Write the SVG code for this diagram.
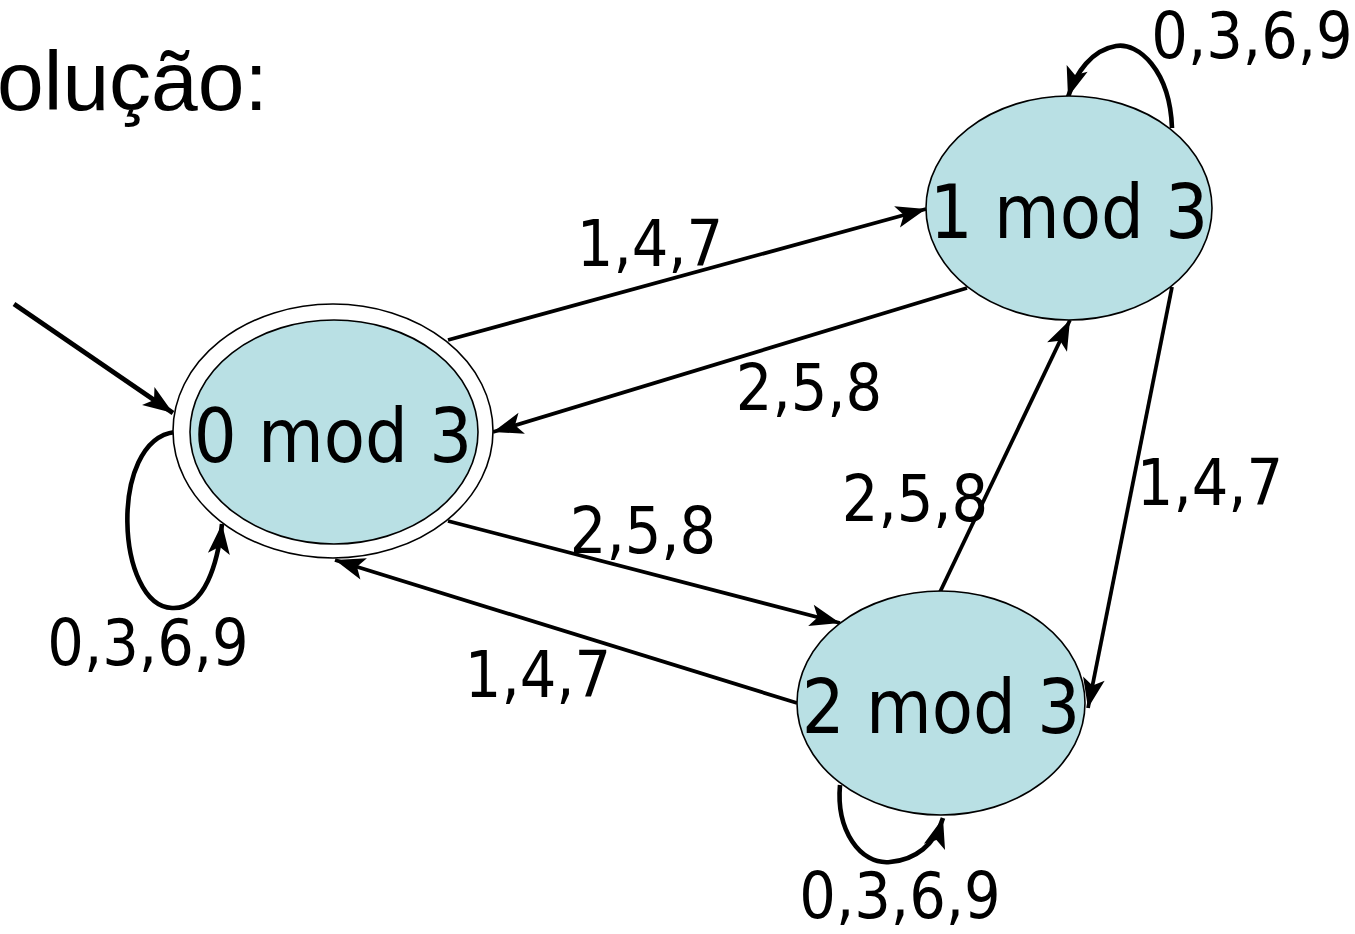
<svg xmlns="http://www.w3.org/2000/svg" width="1355" height="934" viewBox="0 0 1355 934">
<style>
.st{fill:#b9e0e4;stroke:#000;stroke-width:1.6}
.ring{fill:#fff;stroke:#000;stroke-width:1.6}
.nl{font-family:"DejaVu Sans Condensed","DejaVu Sans",sans-serif;font-size:75px;text-anchor:middle;fill:#000}
.el{font-family:"DejaVu Sans Condensed","DejaVu Sans",sans-serif;font-size:64px;text-anchor:middle;fill:#000}
.c{fill:none;stroke:#000;stroke-width:3.8;marker-end:url(#ah)}
</style>
<defs>
<marker id="ah" markerUnits="userSpaceOnUse" viewBox="0 0 32 24" markerWidth="32" markerHeight="24" refX="30" refY="12" orient="auto" overflow="visible">
<path d="M0,1 L30,12 L0,23 L7,12 Z" fill="#000"/>
</marker>
</defs>
<text x="-3" y="110" font-family="Liberation Sans, Arial, sans-serif" font-size="84px">olução:</text>
<g id="connectors">
<line class="c" x1="14" y1="304" x2="173" y2="413" style="stroke-width:4.8"/>
<line class="c" x1="448" y1="340" x2="926" y2="209"/>
<line class="c" x1="967" y1="288" x2="493" y2="432"/>
<line class="c" x1="448" y1="521" x2="840" y2="623"/>
<line class="c" x1="797" y1="703" x2="335" y2="560"/>
<line class="c" x1="940" y1="592" x2="1070" y2="320"/>
<line class="c" x1="1172" y1="287" x2="1088" y2="708"/>
<path class="c" d="M175 432 C108 440 116 606 172 608 C205 610 218 562 222 524" style="stroke-width:4.6"/>
<path class="c" d="M1172 128 C1170 70 1138 42 1116 46 C1092 50 1076 72 1068 97" style="stroke-width:4.6"/>
<path class="c" d="M840 785 C836 830 860 865 890 862 C915 860 935 845 943 818" style="stroke-width:4.6"/>
</g>
<g id="n0">
<ellipse class="ring" cx="333" cy="431" rx="160" ry="127"/>
<ellipse class="st" cx="334" cy="432" rx="144" ry="112"/>
<text class="nl" x="333" y="462">0 mod 3</text>
</g>
<g id="n1">
<ellipse class="st" cx="1069" cy="208" rx="143" ry="112"/>
<text class="nl" x="1069" y="238">1 mod 3</text>
</g>
<g id="n2">
<ellipse class="st" cx="941" cy="703" rx="144" ry="112"/>
<text class="nl" x="941" y="733">2 mod 3</text>
</g>
<g id="labels">
<text class="el" x="650" y="266">1,4,7</text>
<text class="el" x="809" y="410">2,5,8</text>
<text class="el" x="643" y="553">2,5,8</text>
<text class="el" x="538" y="697">1,4,7</text>
<text class="el" x="915" y="521">2,5,8</text>
<text class="el" x="1210" y="505">1,4,7</text>
<text class="el" x="1252" y="58">0,3,6,9</text>
<text class="el" x="148" y="665">0,3,6,9</text>
<text class="el" x="900" y="918">0,3,6,9</text>
</g>
</svg>
